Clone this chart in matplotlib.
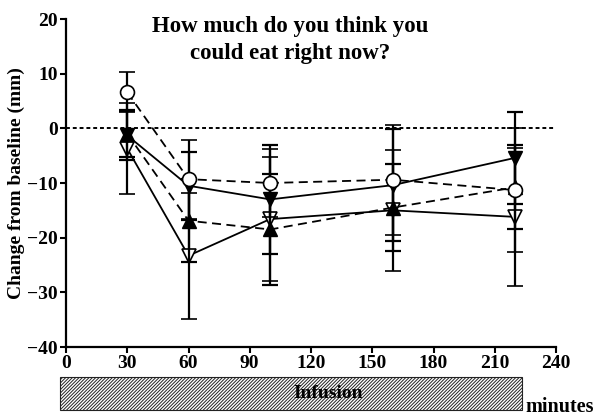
import numpy as np
import matplotlib.pyplot as plt
from matplotlib.patches import Rectangle

plt.rcParams['font.family'] = ['Liberation Serif', 'DejaVu Serif']
plt.rcParams['font.weight'] = 'bold'
plt.rcParams['hatch.linewidth'] = 0.7

# time points (minutes)
times = [30, 60, 100, 160, 220]

# four groups: mean change from baseline and error
circ_mean = [6.6, -9.3, -10.0, -9.4, -11.3]
circ_err = [3.7, 7.2, 6.3, 10.1, 11.4]
fdown_mean = [-1.3, -10.5, -13.0, -10.4, -5.4]
fdown_err = [4.5, 6.2, 10.0, 10.2, 8.4]
fup_mean = [-1.0, -16.9, -18.5, -14.5, -10.8]
fup_err = [4.3, 7.6, 10.1, 7.9, 7.7]
odown_mean = [-3.7, -23.3, -16.6, -15.0, -16.2]
odown_err = [8.3, 11.5, 11.4, 11.1, 12.6]

xticks = [0, 30, 60, 90, 120, 150, 180, 210, 240]
yticks = [-40, -30, -20, -10, 0, 10, 20]

fig = plt.figure(figsize=(6.1, 4.2), dpi=100)
ax = fig.add_axes([66/610, 1 - 347/420, 490/610, 328/420])

ax.axhline(0, color='black', lw=1.4, ls=(0, (2, 1.5)), zorder=1)

kw = dict(color='black', ecolor='black', elinewidth=1.6, capsize=6, capthick=1.6,
          markersize=10, lw=1.3)
ax.errorbar(times, odown_mean, yerr=odown_err, fmt='v-', mfc='white', mec='black',
            mew=1.2, zorder=3, **kw)
ax.errorbar(times, fup_mean, yerr=fup_err, fmt='^', ls=(0, (5, 3)), mfc='black',
            zorder=4, **kw)
ax.errorbar(times, fdown_mean, yerr=fdown_err, fmt='v-', mfc='black', zorder=5, **kw)
ax.errorbar(times, circ_mean, yerr=circ_err, fmt='o', ls=(0, (5, 3)), mfc='white',
            mec='black', mew=1.2, zorder=6, **kw)

ax.set_xlim(0, 240)
ax.set_ylim(-40, 20)
ax.set_xticks(xticks)
ax.set_yticks(yticks)
ax.tick_params(labelsize=14, width=1.5, length=4, direction='out', pad=2)
for s in ['top', 'right']:
    ax.spines[s].set_visible(False)
for s in ['left', 'bottom']:
    ax.spines[s].set_linewidth(1.6)

ax.set_ylabel('Change from baseline (mm)', fontsize=14, fontweight='bold')
ax.yaxis.set_label_coords(-41/490, 0.5)

fig.text(290/610, 1 - 40/420, 'How much do you think you\ncould eat right now?',
         ha='center', va='center', fontsize=16.5, fontweight='bold', linespacing=1.4)

# infusion bar under the axis
rect = Rectangle((60/610, 1 - 410/420), 462/610, 33/420, transform=fig.transFigure,
                 facecolor='white', edgecolor='#222222', hatch='/' * 10, lw=0.8)
fig.patches.append(rect)
fig.text(328/610, 1 - 394/420, 'Infusion', ha='center', va='center', fontsize=14,
         fontweight='bold')
fig.text(525/610, 1 - 407/420, 'minutes', ha='left', va='center', fontsize=14.5,
         fontweight='bold')

fig.savefig('out.png', dpi=100)
